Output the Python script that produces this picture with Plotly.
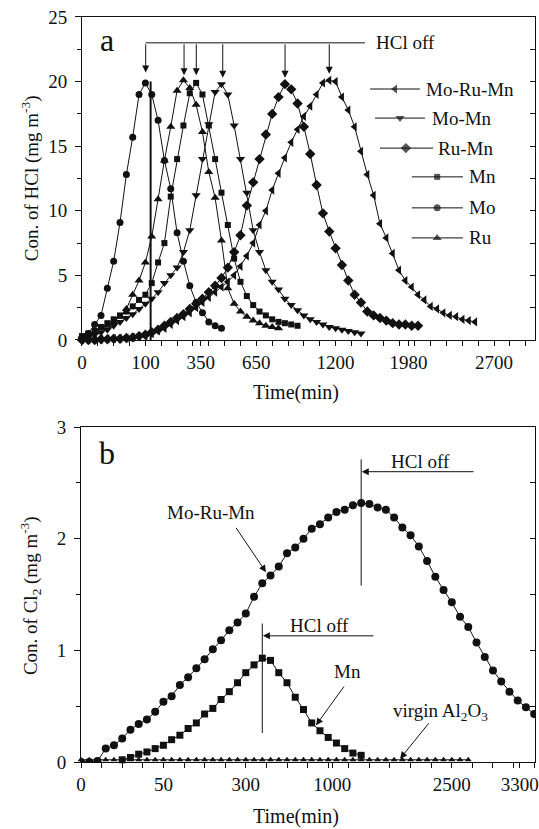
import plotly.graph_objects as go

FONT = "Liberation Serif"
INK = "#111111"

# ---------------- panel (a): HCl ----------------
# x positions are in axis units (one unit = one minor tick of the nonlinear time axis)
grid_a = [0.0, 0.4, 0.8, 1.2, 1.6, 2.0, 2.4, 2.8, 3.2, 3.6, 4.0, 4.4, 4.8, 5.2, 5.6,
          6.0, 6.4, 6.8, 7.2, 7.6, 8.0, 8.4, 8.8, 9.2, 9.6, 10.0, 10.4, 10.8, 11.2,
          11.6, 12.0, 12.4, 12.8, 13.2, 13.6, 14.0, 14.4, 14.8, 15.2, 15.6, 16.0,
          16.4, 16.8, 17.2, 17.6, 18.0, 18.4, 18.8, 19.2, 19.6, 20.0, 20.4, 20.8,
          21.2, 21.6, 22.0, 22.4, 22.8, 23.2, 23.6, 24.0, 24.4, 24.8]
a_tick_pos = [0, 4, 7.5, 11, 16, 20.6, 26]
a_tick_txt = ["0", "100", "350", "650", "1200", "1980", "2700"]

a_mo = [0.2, 0.5, 1.2, 1.9, 4.0, 6.1, 9.1, 12.8, 15.7, 19.0, 19.9, 19.0, 17.0, 13.9,
        11.7, 8.3, 6.1, 4.2, 2.9, 2.1, 1.4, 1.1, 0.9]
a_ru = [0.2, 0.4, 0.6, 0.9, 1.1, 1.4, 1.8, 2.4, 3.5, 4.6, 6.0, 8.0, 10.9, 13.9, 16.5,
        19.3, 20.1, 19.5, 18.2, 16.1, 13.0, 11.0, 7.7, 4.0, 2.8, 2.2, 1.8, 1.5, 1.3,
        1.1, 1.0, 0.9]
a_mn = [0.3, 0.5, 0.7, 1.0, 1.3, 1.6, 1.9, 2.2, 2.6, 3.1, 3.5, 4.4, 6.0, 7.5, 11.1,
        14.0, 16.6, 19.1, 19.9, 19.0, 16.6, 14.0, 11.4, 8.9, 6.3, 4.5, 3.4, 2.7, 2.2,
        1.9, 1.6, 1.4, 1.3, 1.2, 1.1]
a_momn = [0.1, 0.2, 0.4, 0.6, 0.8, 1.1, 1.4, 1.7, 2.0, 2.4, 2.8, 3.2, 3.7, 4.4, 5.0,
          5.6, 6.8, 8.5, 11.2, 14.0, 16.7, 19.2, 19.8, 19.0, 16.6, 14.0, 11.4, 8.5,
          6.8, 5.4, 4.5, 3.9, 3.2, 2.7, 2.3, 1.9, 1.6, 1.4, 1.2, 1.0, 0.9, 0.8, 0.7,
          0.6, 0.5]
a_rumn = [0.0, 0.0, 0.0, 0.05, 0.05, 0.1, 0.1, 0.15, 0.2, 0.3, 0.4, 0.6, 0.8, 1.1,
          1.4, 1.7, 2.0, 2.4, 2.8, 3.2, 3.7, 4.2, 4.8, 5.6, 6.8, 8.1, 10.4, 12.2,
          14.0, 15.9, 17.5, 18.8, 19.8, 19.4, 18.3, 16.5, 14.4, 12.0, 9.8, 8.4, 7.1,
          5.8, 4.6, 3.5, 2.9, 2.2, 1.9, 1.7, 1.5, 1.3, 1.2, 1.2, 1.1, 1.1]
a_morumn = [0.0, 0.0, 0.05, 0.05, 0.1, 0.1, 0.1, 0.15, 0.2, 0.25, 0.3, 0.5, 0.7, 0.9,
            1.2, 1.5, 1.8, 2.1, 2.5, 2.9, 3.3, 3.7, 4.1, 4.5, 5.0, 5.7, 6.5, 7.5,
            8.9, 10.0, 11.6, 12.9, 14.1, 15.3, 16.3, 17.3, 18.1, 19.0, 19.9, 20.1,
            20.0, 18.8, 17.8, 16.5, 14.6, 12.8, 11.2, 9.0, 7.9, 6.7, 5.4, 4.6, 4.1,
            3.5, 3.1, 2.6, 2.4, 2.1, 1.9, 1.8, 1.6, 1.5, 1.4]
# "HCl off" times (axis units) for each catalyst in panel (a)
a_off_x = [4.02, 6.44, 7.21, 8.88, 12.81, 15.6]
a_off_tip = [20.7, 20.5, 20.5, 20.3, 20.3, 20.6]

# ---------------- panel (b): Cl2 ----------------
grid_b = [0.0, 0.4, 0.8, 1.2, 1.6, 2.0, 2.4, 2.8, 3.2, 3.6, 4.0, 4.4, 4.8, 5.2, 5.6,
          6.0, 6.4, 6.8, 7.2, 7.6, 8.0, 8.4, 8.8, 9.2, 9.6, 10.0, 10.4, 10.8, 11.2,
          11.6, 12.0, 12.4, 12.8, 13.2, 13.6, 14.0, 14.4, 14.8, 15.2, 15.6, 16.0,
          16.4, 16.8, 17.2, 17.6, 18.0, 18.4, 18.8, 19.2, 19.6, 20.0, 20.4, 20.8,
          21.2, 21.6, 22.0]
b_tick_pos = [0, 4, 8, 12.2, 18, 21.3]
b_tick_txt = ["0", "50", "300", "1000", "2500", "3300"]

b_morumn = [0.0, 0.0, 0.01, 0.12, 0.15, 0.21, 0.29, 0.34, 0.38, 0.45, 0.54, 0.59,
            0.69, 0.76, 0.84, 0.92, 1.01, 1.09, 1.18, 1.25, 1.33, 1.48, 1.60, 1.67,
            1.75, 1.87, 1.92, 2.0, 2.09, 2.13, 2.19, 2.24, 2.26, 2.30, 2.32, 2.31,
            2.28, 2.26, 2.19, 2.10, 2.03, 1.93, 1.80, 1.66, 1.54, 1.43, 1.30, 1.21,
            1.07, 0.94, 0.82, 0.72, 0.63, 0.55, 0.49, 0.43]
b_mn = [0.02, 0.04, 0.07, 0.09, 0.12, 0.15, 0.20, 0.24, 0.30, 0.35, 0.43, 0.48, 0.56,
        0.63, 0.71, 0.80, 0.87, 0.93, 0.91, 0.80, 0.71, 0.58, 0.47, 0.35, 0.28, 0.22,
        0.17, 0.12, 0.08, 0.06]
b_mn_start = 5
b_virgin = [0.02, 0.02, 0.02, 0.02, 0.02, 0.02, 0.02, 0.02, 0.02, 0.02,
            0.02, 0.02, 0.02, 0.02, 0.02, 0.02, 0.02, 0.02, 0.02, 0.02,
            0.02, 0.02, 0.02, 0.02, 0.02, 0.02, 0.02, 0.02, 0.02, 0.02,
            0.02, 0.02, 0.02, 0.02, 0.02, 0.02, 0.02, 0.02, 0.02, 0.02,
            0.02, 0.02, 0.02, 0.02, 0.02, 0.02, 0.02, 0.02]

fig = go.Figure()


def series(x, y, sym, size, xa, ya, clip=False):
    fig.add_trace(go.Scatter(
        x=x, y=y, mode="lines+markers", xaxis=xa, yaxis=ya, showlegend=False,
        cliponaxis=clip, line=dict(color=INK, width=1),
        marker=dict(symbol=sym, size=size, color=INK, line=dict(width=0))))


series(grid_a[:len(a_morumn)], a_morumn, "triangle-left", 8, "x", "y")
series(grid_a[:len(a_momn)], a_momn, "triangle-down", 8, "x", "y")
series(grid_a[:len(a_rumn)], a_rumn, "diamond", 8, "x", "y")
series(grid_a[:len(a_mn)], a_mn, "square", 6, "x", "y")
series(grid_a[:len(a_mo)], a_mo, "circle", 7, "x", "y")
series(grid_a[:len(a_ru)], a_ru, "triangle-up", 8, "x", "y")

series(grid_b[:len(b_morumn)], b_morumn, "circle", 8, "x2", "y2", clip=True)
series(grid_b[b_mn_start:b_mn_start + len(b_mn)], b_mn, "square", 7, "x2", "y2")
series(grid_b[:len(b_virgin)], b_virgin, "triangle-up", 6, "x2", "y2")

# dummy traces so the inward right-hand tick axes get drawn
fig.add_trace(go.Scatter(x=[None], y=[None], xaxis="x", yaxis="y3", showlegend=False))
fig.add_trace(go.Scatter(x=[None], y=[None], xaxis="x2", yaxis="y4", showlegend=False))

# custom staggered legend for panel (a), drawn on an overlay axis (0..1)
leg_names = ["Mo-Ru-Mn", "Mo-Mn", "Ru-Mn", "Mn", "Mo", "Ru"]
leg_syms = ["triangle-left", "triangle-down", "diamond", "square", "circle", "triangle-up"]
leg_sizes = [8, 8, 8, 6, 7, 8]
leg_x = [[0.636, 0.691, 0.746], [0.647, 0.702, 0.757], [0.658, 0.715, 0.775],
         [0.728, 0.784, 0.841], [0.728, 0.784, 0.841], [0.728, 0.784, 0.841]]
leg_y = [0.777, 0.687, 0.594, 0.505, 0.409, 0.316]
leg_tx = [0.755, 0.768, 0.781, 0.850, 0.850, 0.850]
annotations = []
for nm, sy, sz, lx, ly, tx in zip(leg_names, leg_syms, leg_sizes, leg_x, leg_y, leg_tx):
    fig.add_trace(go.Scatter(
        x=lx, y=[ly, ly, ly], mode="lines+markers", xaxis="x5", yaxis="y5",
        showlegend=False, cliponaxis=False, line=dict(color=INK, width=1),
        marker=dict(symbol=sy, size=[0, sz, 0], color=INK, line=dict(width=0))))
    annotations.append(dict(x=tx, y=ly, xref="x5", yref="y5", text=nm, showarrow=False,
                            xanchor="left", yanchor="middle",
                            font=dict(family=FONT, size=19, color=INK)))

shapes = []
# panel (a) HCl-off markers
shapes.append(dict(type="line", xref="x", yref="y", x0=a_off_x[0], x1=17.85, y0=23.0,
                   y1=23.0, line=dict(color=INK, width=1)))
shapes.append(dict(type="line", xref="x", yref="y", x0=4.33, x1=4.33, y0=0, y1=20.0,
                   line=dict(color=INK, width=2)))
for xo, tip in zip(a_off_x, a_off_tip):
    annotations.append(dict(x=xo, y=tip, ax=xo, ay=23.0, xref="x", yref="y", axref="x",
                            ayref="y", text="", showarrow=True, arrowhead=2,
                            arrowsize=1.4, arrowwidth=1, arrowcolor=INK))
annotations.append(dict(x=18.42, y=23.0, xref="x", yref="y", text="HCl off",
                        showarrow=False, xanchor="left", yanchor="middle",
                        font=dict(family=FONT, size=19, color=INK)))
annotations.append(dict(x=1.58, y=23.2, xref="x", yref="y", text="a", showarrow=False,
                        xanchor="center", yanchor="middle",
                        font=dict(family=FONT, size=32, color=INK)))

# panel (b)
shapes.append(dict(type="line", xref="x2", yref="y2", x0=13.6, x1=13.6, y0=1.58, y1=2.71,
                   line=dict(color=INK, width=1)))
shapes.append(dict(type="line", xref="x2", yref="y2", x0=8.8, x1=8.8, y0=0.26, y1=1.24,
                   line=dict(color=INK, width=1)))
b_arrows = [  # (tip x, tip y, tail x, tail y)
    (13.63, 2.60, 19.13, 2.60),
    (8.83, 1.13, 14.27, 1.13),
    (8.98, 1.70, 7.48, 2.11),
    (11.41, 0.33, 12.82, 0.69),
    (15.49, 0.03, 16.94, 0.36),
]
for tx_, ty_, ax_, ay_ in b_arrows:
    annotations.append(dict(x=tx_, y=ty_, ax=ax_, ay=ay_, xref="x2", yref="y2",
                            axref="x2", ayref="y2", text="", showarrow=True,
                            arrowhead=2, arrowsize=1.4, arrowwidth=1, arrowcolor=INK))
b_texts = [
    (16.46, 2.69, "HCl off"),
    (11.6, 1.22, "HCl off"),
    (6.31, 2.23, "Mo-Ru-Mn"),
    (12.96, 0.81, "Mn"),
    (17.43, 0.45, "virgin Al<sub>2</sub>O<sub>3</sub>"),
]
for x_, y_, t_ in b_texts:
    annotations.append(dict(x=x_, y=y_, xref="x2", yref="y2", text=t_, showarrow=False,
                            xanchor="center", yanchor="middle",
                            font=dict(family=FONT, size=19, color=INK)))
annotations.append(dict(x=1.26, y=2.77, xref="x2", yref="y2", text="b", showarrow=False,
                        xanchor="center", yanchor="middle",
                        font=dict(family=FONT, size=32, color=INK)))

# axis titles
annotations += [
    dict(x=0.0557, y=0.785, xref="paper", yref="paper", text="Con. of HCl (mg m<sup>-3</sup>)",
         textangle=-90, showarrow=False, xanchor="center", yanchor="middle",
         font=dict(family=FONT, size=19, color=INK)),
    dict(x=0.0557, y=0.281, xref="paper", yref="paper",
         text="Con. of Cl<sub>2</sub> (mg m<sup>-3</sup>)",
         textangle=-90, showarrow=False, xanchor="center", yanchor="middle",
         font=dict(family=FONT, size=19, color=INK)),
    dict(x=0.549, y=0.526, xref="paper", yref="paper", text="Time(min)", showarrow=False,
         xanchor="center", yanchor="middle", font=dict(family=FONT, size=20, color=INK)),
    dict(x=0.549, y=0.0145, xref="paper", yref="paper", text="Time(min)", showarrow=False,
         xanchor="center", yanchor="middle", font=dict(family=FONT, size=20, color=INK)),
]

TICKFONT = dict(family=FONT, size=19, color=INK)
base = dict(showline=True, linecolor=INK, linewidth=1, mirror=True, ticks="outside",
            tickcolor=INK, tickwidth=1, showgrid=False, zeroline=False, tickfont=TICKFONT,
            automargin=False, fixedrange=True)
xdom_a = [0.1521, 0.9926]
ydom_a = [0.5899, 0.9795]
xdom_b = [0.1503, 0.9926]
ydom_b = [0.0808, 0.4849]

fig.update_layout(
    width=539, height=829, margin=dict(l=0, r=0, t=0, b=0),
    paper_bgcolor="white", plot_bgcolor="rgba(0,0,0,0)",
    xaxis=dict(base, domain=xdom_a, anchor="y", range=[0, 28.58], tickmode="array",
               tickvals=a_tick_pos, ticktext=a_tick_txt, ticklen=5,
               minor=dict(tickmode="linear", tick0=0, dtick=1, ticks="outside",
                          ticklen=5, tickcolor=INK, tickwidth=1)),
    yaxis=dict(base, domain=ydom_a, anchor="x", range=[0, 25], tickmode="linear",
               tick0=0, dtick=5, ticklen=6, ticklabelstandoff=4,
               minor=dict(tickmode="linear", tick0=0, dtick=2.5, ticks="outside",
                          ticklen=4, tickcolor=INK, tickwidth=1)),
    yaxis3=dict(overlaying="y", side="right", anchor="x", range=[0, 25],
                tickmode="linear", tick0=0, dtick=2.5, ticks="inside", ticklen=5,
                tickcolor=INK, showticklabels=False, showline=False, showgrid=False,
                zeroline=False, fixedrange=True),
    xaxis2=dict(base, domain=xdom_b, anchor="y2", range=[0, 22.04], tickmode="array",
                tickvals=b_tick_pos, ticktext=b_tick_txt, ticklen=5,
                minor=dict(tickmode="linear", tick0=0, dtick=1, ticks="outside",
                           ticklen=5, tickcolor=INK, tickwidth=1)),
    yaxis2=dict(base, domain=ydom_b, anchor="x2", range=[0, 3], tickmode="linear",
                tick0=0, dtick=1, ticklen=6, ticklabelstandoff=4,
                minor=dict(tickmode="linear", tick0=0, dtick=0.5, ticks="outside",
                           ticklen=4, tickcolor=INK, tickwidth=1)),
    yaxis4=dict(overlaying="y2", side="right", anchor="x2", range=[0, 3],
                tickmode="linear", tick0=0, dtick=0.5, ticks="inside", ticklen=5,
                tickcolor=INK, showticklabels=False, showline=False, showgrid=False,
                zeroline=False, fixedrange=True),
    xaxis5=dict(domain=xdom_a, anchor="y5", range=[0, 1], visible=False, fixedrange=True),
    yaxis5=dict(domain=ydom_a, anchor="x5", range=[0, 1], visible=False, fixedrange=True),
    shapes=shapes, annotations=annotations,
)

fig.write_html("out.html")
